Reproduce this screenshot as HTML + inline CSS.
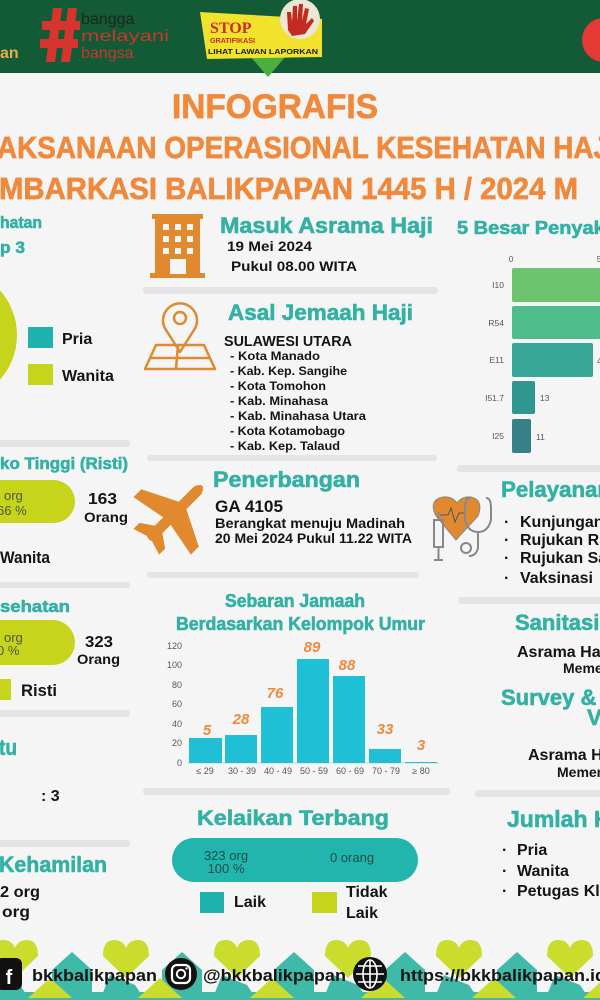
<!DOCTYPE html>
<html><head><meta charset="utf-8"><style>
html,body{margin:0;padding:0;background:#f5f5f5;}
svg{display:block;}
text{font-family:"Liberation Sans","DejaVu Sans",sans-serif;}
.b{font-weight:bold;}
.t{fill:#33b1a4;font-weight:bold;stroke:#33b1a4;stroke-width:0.6;}
.k{fill:#141414;font-weight:bold;}
.o{fill:#f0893b;font-weight:bold;stroke:#f0893b;stroke-width:0.7;}
</style></head><body>
<svg width="600" height="1000" viewBox="0 0 600 1000" xmlns="http://www.w3.org/2000/svg">
<rect width="600" height="1000" fill="#f5f5f5"/>

<!-- HEADER -->
<rect x="0" y="0" width="600" height="73" fill="#135b37"/>
<text x="0" y="58" font-size="16" class="b" fill="#e6b04c">an</text>
<g fill="#d6352f">
  <polygon points="53,8 62,8 55,62 46,62"/>
  <polygon points="68,8 77,8 70,62 61,62"/>
  <rect x="42" y="21" width="38" height="9"/>
  <rect x="40" y="39" width="38" height="9"/>
</g>
<text x="81" y="24" font-size="16" fill="#1d261d">bangga</text>
<text x="81" y="41" font-size="16" fill="#c5372f" textLength="88" lengthAdjust="spacingAndGlyphs">melayani</text>
<text x="81" y="58" font-size="16" fill="#c5372f">bangsa</text>
<!-- stop sign -->
<polygon points="250,56 286,56 268,77" fill="#4cae3e"/>
<polygon points="200,12 322,19 322,57 207,59" fill="#f1e22b"/>
<circle cx="300" cy="19" r="20" fill="#ece6d4"/>
<path d="M288,30 L287,12 L291,12 L292,22 L293,6 L297,6 L297,21 L299,4 L303,4 L302,21 L305,8 L309,9 L306,24 L312,18 L314,21 L305,34 L292,36 Z" fill="#c42a22"/>
<text x="210" y="33" font-size="16" font-weight="bold" fill="#d0291f" style="font-family:'Liberation Serif',serif">STOP</text>
<text x="210" y="43" font-size="7" class="b" fill="#c62b22" textLength="45" lengthAdjust="spacingAndGlyphs">GRATIFIKASI</text>
<text x="208" y="54" font-size="7.5" class="b" fill="#1c1c1c" textLength="110" lengthAdjust="spacingAndGlyphs">LIHAT LAWAN LAPORKAN</text>
<circle cx="604" cy="40" r="22" fill="#e53a33"/>

<!-- TITLE -->
<text x="172" y="118" font-size="34" class="o" textLength="206" lengthAdjust="spacingAndGlyphs">INFOGRAFIS</text>
<text x="-3" y="158" font-size="31" class="o" textLength="612" lengthAdjust="spacingAndGlyphs">AKSANAAN OPERASIONAL KESEHATAN HAJ</text>
<text x="-1" y="199" font-size="31" class="o" textLength="579" lengthAdjust="spacingAndGlyphs">MBARKASI BALIKPAPAN 1445 H / 2024 M</text>

<!-- LEFT COLUMN -->
<text x="0" y="228" font-size="17" class="t" textLength="42" lengthAdjust="spacingAndGlyphs">hatan</text>
<text x="0" y="253" font-size="17" class="t" textLength="25" lengthAdjust="spacingAndGlyphs">p 3</text>
<circle cx="-50" cy="335" r="67" fill="#c6d41c"/>
<rect x="28" y="327" width="25" height="21" fill="#1fb2ae"/>
<text x="62" y="344" font-size="16" class="k">Pria</text>
<rect x="28" y="364" width="25" height="21" fill="#c6d41c"/>
<text x="62" y="381" font-size="16" class="k">Wanita</text>

<rect x="-5" y="440" width="135" height="7" rx="3" fill="#e4e4e4"/>
<text x="0" y="469" font-size="17" class="t" textLength="128" lengthAdjust="spacingAndGlyphs">ko Tinggi (Risti)</text>
<rect x="-40" y="480" width="115" height="43" rx="21.5" fill="#c6d41c"/>
<text x="4" y="500" font-size="13" fill="#4a5a3a">org</text>
<text x="-3" y="515" font-size="13" fill="#4a5a3a">66 %</text>
<text x="88" y="504" font-size="16" class="k" textLength="29" lengthAdjust="spacingAndGlyphs">163</text>
<text x="84" y="522" font-size="14" class="k" textLength="44" lengthAdjust="spacingAndGlyphs">Orang</text>
<text x="0" y="563" font-size="17" class="k" textLength="50" lengthAdjust="spacingAndGlyphs">Wanita</text>

<rect x="-5" y="582" width="135" height="6" rx="3" fill="#e4e4e4"/>
<text x="0" y="612" font-size="17" class="t" textLength="70" lengthAdjust="spacingAndGlyphs">sehatan</text>
<rect x="-40" y="620" width="115" height="45" rx="22.5" fill="#c6d41c"/>
<text x="4" y="642" font-size="13" fill="#4a5a3a">org</text>
<text x="-3" y="655" font-size="13" fill="#4a5a3a">0 %</text>
<text x="85" y="647" font-size="16" class="k" textLength="28" lengthAdjust="spacingAndGlyphs">323</text>
<text x="77" y="664" font-size="14" class="k" textLength="43" lengthAdjust="spacingAndGlyphs">Orang</text>
<rect x="0" y="679" width="11" height="21" fill="#c6d41c"/>
<text x="21" y="696" font-size="17" class="k" textLength="36" lengthAdjust="spacingAndGlyphs">Risti</text>

<rect x="-5" y="710" width="135" height="7" rx="3" fill="#e4e4e4"/>
<text x="-1" y="755" font-size="22" class="t" textLength="18" lengthAdjust="spacingAndGlyphs">tu</text>
<text x="41" y="801" font-size="16" class="k">: 3</text>

<rect x="-5" y="840" width="135" height="7" rx="3" fill="#e4e4e4"/>
<text x="-1" y="872" font-size="22" class="t" textLength="108" lengthAdjust="spacingAndGlyphs">Kehamilan</text>
<text x="0" y="897" font-size="16" class="k" textLength="40" lengthAdjust="spacingAndGlyphs">2 org</text>
<text x="2" y="917" font-size="16" class="k" textLength="28" lengthAdjust="spacingAndGlyphs">org</text>

<!-- MIDDLE COLUMN -->
<g fill="#e0892e">
  <rect x="155" y="218" width="45" height="57"/>
  <rect x="152" y="214" width="51" height="5"/>
  <rect x="150" y="273" width="55" height="5"/>
</g>
<g fill="#f5f5f5">
  <rect x="163" y="224" width="6" height="6"/><rect x="175" y="224" width="6" height="6"/><rect x="187" y="224" width="6" height="6"/>
  <rect x="163" y="236" width="6" height="6"/><rect x="175" y="236" width="6" height="6"/><rect x="187" y="236" width="6" height="6"/>
  <rect x="163" y="248" width="6" height="6"/><rect x="175" y="248" width="6" height="6"/><rect x="187" y="248" width="6" height="6"/>
  <rect x="170" y="259" width="16" height="15"/>
</g>
<text x="220" y="233" font-size="22" class="t" textLength="213" lengthAdjust="spacingAndGlyphs">Masuk Asrama Haji</text>
<text x="227" y="251" font-size="14" class="k" textLength="85" lengthAdjust="spacingAndGlyphs">19 Mei 2024</text>
<text x="231" y="271" font-size="14" class="k" textLength="126" lengthAdjust="spacingAndGlyphs">Pukul 08.00 WITA</text>

<rect x="143" y="287" width="295" height="7" rx="3" fill="#e4e4e4"/>
<g fill="none" stroke="#e0892e" stroke-width="2.5" stroke-linejoin="round">
  <path d="M180,352 L166,330 A17,17 0 1 1 194,330 Z"/>
  <circle cx="180" cy="318" r="6"/>
  <polygon points="156,345 204,345 215,369 145,369"/>
  <line x1="150" y1="358" x2="210" y2="358"/>
  <line x1="178" y1="345" x2="176" y2="369"/>
</g>
<text x="228" y="320" font-size="22" class="t" textLength="185" lengthAdjust="spacingAndGlyphs">Asal Jemaah Haji</text>
<text x="224" y="346" font-size="15" class="k" textLength="128" lengthAdjust="spacingAndGlyphs">SULAWESI UTARA</text>
<g font-size="12" class="k">
<text x="230" y="360" textLength="90" lengthAdjust="spacingAndGlyphs">- Kota Manado</text>
<text x="230" y="375" textLength="117" lengthAdjust="spacingAndGlyphs">- Kab. Kep. Sangihe</text>
<text x="230" y="390" textLength="96" lengthAdjust="spacingAndGlyphs">- Kota Tomohon</text>
<text x="230" y="405" textLength="98" lengthAdjust="spacingAndGlyphs">- Kab. Minahasa</text>
<text x="230" y="420" textLength="136" lengthAdjust="spacingAndGlyphs">- Kab. Minahasa Utara</text>
<text x="230" y="435" textLength="115" lengthAdjust="spacingAndGlyphs">- Kota Kotamobago</text>
<text x="230" y="450" textLength="110" lengthAdjust="spacingAndGlyphs">- Kab. Kep. Talaud</text>
</g>

<rect x="147" y="455" width="290" height="6" rx="3" fill="#e4e4e4"/>
<g transform="translate(176,512) rotate(-45) scale(1.4)" fill="#e0892e">
  <path d="M-26,-3.8 L22,-3.8 Q31,0 22,3.8 L-26,3.8 Q-29,0 -26,-3.8 Z"/>
  <polygon points="7,-3 -6,-29 -14,-29 -9,-3"/>
  <polygon points="7,3 -6,29 -14,29 -9,3"/>
  <polygon points="-17,-3 -24,-13 -30,-13 -27,-3"/>
  <polygon points="-17,3 -24,13 -30,13 -27,3"/>
</g>
<text x="213" y="487" font-size="22" class="t" textLength="147" lengthAdjust="spacingAndGlyphs">Penerbangan</text>
<text x="215" y="512" font-size="17" class="k" textLength="68" lengthAdjust="spacingAndGlyphs">GA 4105</text>
<text x="215" y="528" font-size="13.5" class="k" textLength="190" lengthAdjust="spacingAndGlyphs">Berangkat menuju Madinah</text>
<text x="215" y="543" font-size="13.5" class="k" textLength="197" lengthAdjust="spacingAndGlyphs">20 Mei 2024 Pukul 11.22 WITA</text>

<rect x="147" y="572" width="272" height="6" rx="3" fill="#e4e4e4"/>
<text x="225" y="607" font-size="18" class="t" textLength="140" lengthAdjust="spacingAndGlyphs">Sebaran Jamaah</text>
<text x="176" y="630" font-size="18" class="t" textLength="249" lengthAdjust="spacingAndGlyphs">Berdasarkan Kelompok Umur</text>
<g font-size="9" fill="#555" text-anchor="end">
<text x="182" y="649">120</text><text x="182" y="668">100</text><text x="182" y="688">80</text>
<text x="182" y="707">60</text><text x="182" y="727">40</text><text x="182" y="746">20</text><text x="182" y="766">0</text>
</g>
<line x1="187" y1="763" x2="439" y2="763" stroke="#cfd8da" stroke-width="1"/>
<g fill="#1fbfd6">
<rect x="189" y="738" width="33" height="25"/>
<rect x="225" y="735" width="32" height="28"/>
<rect x="261" y="707" width="32" height="56"/>
<rect x="297" y="659" width="32" height="104"/>
<rect x="333" y="676" width="32" height="87"/>
<rect x="369" y="749" width="32" height="14"/>
<rect x="405" y="762" width="32" height="1"/>
</g>
<g font-size="15" class="b" fill="#f08a3c" text-anchor="middle" font-style="italic">
<text x="207" y="735">5</text><text x="241" y="724">28</text><text x="275" y="698">76</text>
<text x="312" y="652">89</text><text x="347" y="670">88</text><text x="385" y="734">33</text><text x="421" y="750">3</text>
</g>
<g font-size="9" fill="#555" text-anchor="middle">
<text x="205" y="774">≤ 29</text><text x="242" y="774">30 - 39</text><text x="278" y="774">40 - 49</text>
<text x="314" y="774">50 - 59</text><text x="350" y="774">60 - 69</text><text x="386" y="774">70 - 79</text><text x="421" y="774">≥ 80</text>
</g>

<rect x="143" y="788" width="307" height="7" rx="3" fill="#e4e4e4"/>
<text x="197" y="825" font-size="21" class="t" textLength="192" lengthAdjust="spacingAndGlyphs">Kelaikan Terbang</text>
<rect x="172" y="838" width="246" height="44" rx="22" fill="#22b5ae"/>
<text x="226" y="860" font-size="13" fill="#1f4d49" text-anchor="middle">323 org</text>
<text x="226" y="873" font-size="13" fill="#1f4d49" text-anchor="middle">100 %</text>
<text x="352" y="862" font-size="13" fill="#1f4d49" text-anchor="middle">0 orang</text>
<rect x="200" y="892" width="24" height="21" fill="#1fb2ae"/>
<text x="234" y="907" font-size="16" class="k">Laik</text>
<rect x="312" y="892" width="25" height="21" fill="#c6d41c"/>
<text x="346" y="897" font-size="16" class="k">Tidak</text>
<text x="346" y="918" font-size="16" class="k">Laik</text>

<!-- RIGHT COLUMN -->
<text x="457" y="234" font-size="18" class="t" textLength="160" lengthAdjust="spacingAndGlyphs">5 Besar Penyakit</text>
<g font-size="8" fill="#555">
<text x="511" y="262" text-anchor="middle">0</text><text x="599" y="262" text-anchor="middle">5</text>
</g>
<rect x="512" y="268" width="95" height="34" rx="2" fill="#6cc46e"/>
<rect x="512" y="306" width="95" height="33" rx="2" fill="#4fbc8c"/>
<rect x="512" y="343" width="81" height="34" rx="2" fill="#36a797"/>
<rect x="512" y="381" width="23" height="33" rx="2" fill="#2f9690"/>
<rect x="512" y="419" width="19" height="34" rx="2" fill="#36808a"/>
<g font-size="8.5" fill="#555">
<text x="597" y="364">4</text><text x="540" y="401">13</text><text x="536" y="440">11</text>
</g>
<g font-size="8.5" fill="#555" text-anchor="end">
<text x="504" y="288">I10</text><text x="504" y="326">R54</text><text x="504" y="363">E11</text>
<text x="504" y="401">I51.7</text><text x="504" y="439">I25</text>
</g>

<rect x="457" y="465" width="150" height="7" rx="3" fill="#e4e4e4"/>
<path d="M456,540 L436,516 Q428,500 443,497 Q452,496 457,503 Q462,496 471,497 Q484,500 478,516 Z" fill="#e0892e" stroke="#888" stroke-width="1"/>
<polyline points="440,515 448,515 451,508 455,522 459,513 466,513" fill="none" stroke="#555" stroke-width="1"/>
<g fill="none" stroke="#888" stroke-width="2">
  <path d="M470,498 Q465,498 465,508 L465,520 Q468,532 478,532 Q488,532 491,520 L491,508 Q491,498 486,498"/>
  <path d="M478,532 L478,548 Q476,556 469,556"/>
  <circle cx="466" cy="548" r="5"/>
  <rect x="434" y="520" width="9" height="27"/>
  <line x1="438.5" y1="547" x2="438.5" y2="560"/>
  <line x1="434" y1="560" x2="443" y2="560"/>
  <line x1="438.5" y1="512" x2="438.5" y2="520"/>
</g>
<text x="501" y="497" font-size="22" class="t" textLength="110" lengthAdjust="spacingAndGlyphs">Pelayanan</text>
<g font-size="16" class="k">
<text x="504" y="527">·</text><text x="520" y="527">Kunjungan</text>
<text x="504" y="545">·</text><text x="520" y="545">Rujukan RS</text>
<text x="504" y="563">·</text><text x="520" y="563">Rujukan Sanitasi</text>
<text x="504" y="583">·</text><text x="520" y="583">Vaksinasi</text>
</g>

<rect x="458" y="597" width="150" height="7" rx="3" fill="#e4e4e4"/>
<text x="515" y="630" font-size="22" class="t">Sanitasi</text>
<text x="517" y="657" font-size="16" class="k">Asrama Haji</text>
<text x="563" y="673" font-size="14" class="k">Memenuhi</text>
<text x="501" y="705" font-size="22" class="t">Survey &amp;</text>
<text x="587" y="725" font-size="22" class="t">Vektor</text>
<text x="528" y="760" font-size="16" class="k">Asrama Haji</text>
<text x="557" y="777" font-size="14" class="k">Memenuhi</text>

<rect x="475" y="790" width="135" height="7" rx="3" fill="#e4e4e4"/>
<text x="507" y="827" font-size="23" class="t">Jumlah Kloter</text>
<g font-size="16" class="k">
<text x="502" y="855">·</text><text x="517" y="855">Pria</text>
<text x="502" y="876">·</text><text x="517" y="876">Wanita</text>
<text x="502" y="896">·</text><text x="517" y="896">Petugas Kloter</text>
</g>

<!-- FOOTER PATTERN -->
<g fill="#3fb9a8">
  <polygon points="-40,1000 -40,975 -25,958 -10,975 -10,1000"/>
  <polygon points="52,1000 52,970 72,952 92,970 92,1000"/>
  <polygon points="162,1000 162,970 182,952 202,970 202,1000"/>
  <polygon points="274,1000 274,970 294,952 314,970 314,1000"/>
  <polygon points="385,1000 385,970 405,952 425,970 425,1000"/>
  <polygon points="497,1000 497,970 517,952 537,970 537,1000"/>
  <polygon points="-15,1000 -5,975 20,985 30,1000"/>
  <polygon points="100,1000 110,975 135,985 145,1000"/>
  <polygon points="212,1000 222,975 247,985 257,1000"/>
  <polygon points="323,1000 333,975 358,985 368,1000"/>
  <polygon points="434,1000 444,975 469,985 479,1000"/>
  <polygon points="545,1000 555,975 580,985 590,1000"/>
  <rect x="0" y="992" width="600" height="8"/>
</g>
<g fill="#cbdd2c">
  <path d="M15,978 L-8,956 Q-8,940 3,940 Q12,940 15,948 Q18,940 27,940 Q38,940 38,956 Z"/>
  <path d="M126,978 L103,956 Q103,940 114,940 Q123,940 126,948 Q129,940 138,940 Q149,940 149,956 Z"/>
  <path d="M237,978 L214,956 Q214,940 225,940 Q234,940 237,948 Q240,940 249,940 Q260,940 260,956 Z"/>
  <path d="M348,978 L325,956 Q325,940 336,940 Q345,940 348,948 Q351,940 360,940 Q371,940 371,956 Z"/>
  <path d="M459,978 L436,956 Q436,940 447,940 Q456,940 459,948 Q462,940 471,940 Q482,940 482,956 Z"/>
  <path d="M570,978 L547,956 Q547,940 558,940 Q567,940 570,948 Q573,940 582,940 Q593,940 593,956 Z"/>
  <polygon points="28,998 50,978 72,998"/>
  <polygon points="138,998 160,978 182,998"/>
  <polygon points="250,998 272,978 294,998"/>
  <polygon points="361,998 383,978 405,998"/>
  <polygon points="472,998 494,978 516,998"/>
  <polygon points="583,998 605,978 627,998"/>
</g>
<!-- footer text -->
<rect x="-4" y="958" width="26" height="32" rx="6" fill="#111"/>
<text x="9" y="984" font-size="20" class="b" fill="#fff" text-anchor="middle">f</text>
<text x="32" y="981" font-size="17" class="k" textLength="125" lengthAdjust="spacingAndGlyphs">bkkbalikpapan</text>
<circle cx="181" cy="974" r="16" fill="#111"/>
<rect x="172" y="965" width="18" height="18" rx="5" fill="none" stroke="#fff" stroke-width="2.2"/>
<circle cx="181" cy="974" r="4.2" fill="none" stroke="#fff" stroke-width="2"/>
<circle cx="186.5" cy="968.5" r="1.2" fill="#fff"/>
<text x="203" y="981" font-size="17" class="k" textLength="143" lengthAdjust="spacingAndGlyphs">@bkkbalikpapan</text>
<circle cx="370" cy="974" r="17" fill="#111"/>
<g fill="none" stroke="#fff" stroke-width="1.6">
  <ellipse cx="370" cy="974" rx="7" ry="14"/>
  <line x1="356" y1="974" x2="384" y2="974"/>
  <line x1="358" y1="966" x2="382" y2="966"/>
  <line x1="358" y1="982" x2="382" y2="982"/>
  <line x1="370" y1="960" x2="370" y2="988"/>
</g>
<text x="400" y="981" font-size="17" class="k" textLength="206" lengthAdjust="spacingAndGlyphs">https://bkkbalikpapan.id</text>
</svg>
</body></html>
